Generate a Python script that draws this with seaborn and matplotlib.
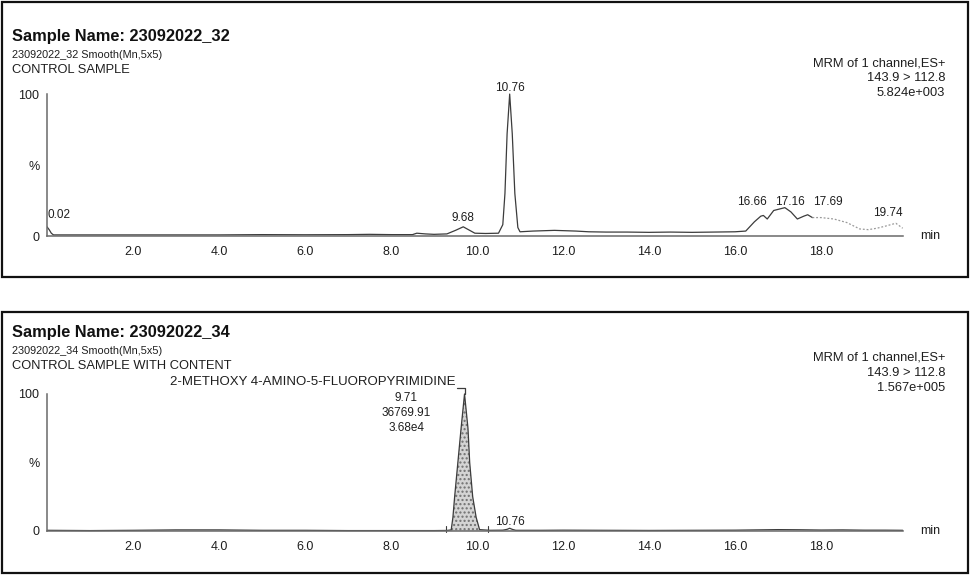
import matplotlib
matplotlib.use("Agg")
import pandas as pd
import matplotlib.pyplot as plt
import seaborn as sns
from matplotlib.patches import Rectangle
from matplotlib.ticker import MultipleLocator, FuncFormatter

# ---- data (time in min, intensity in %) ----
top_time = [0.00, 0.05, 0.10, 0.15, 0.50, 1.0, 2.0, 3.0, 4.0, 5.0, 6.0, 7.0, 7.5,
            8.0, 8.5, 8.6, 8.8, 9.0, 9.3, 9.5, 9.68, 9.8, 9.95, 10.2, 10.5, 10.6,
            10.65, 10.7, 10.76, 10.82, 10.88, 10.95, 11.0, 11.3, 11.8, 12.3, 12.6,
            13.0, 13.5, 14.0, 14.5, 15.0, 15.5, 16.0, 16.25, 16.45, 16.6, 16.66,
            16.75, 16.9, 17.16, 17.3, 17.45, 17.6, 17.69, 17.8, 18.0, 18.3, 18.6,
            18.9, 19.1, 19.3, 19.5, 19.74, 19.9]
top_level = [6.5, 4.5, 2.0, 0.8, 0.8, 0.8, 0.8, 0.8, 0.8, 1.0, 0.9, 1.0, 1.2,
             1.0, 1.0, 2.0, 1.5, 1.2, 1.5, 4.0, 6.5, 4.5, 2.0, 1.8, 2.0, 8.0,
             30.0, 72.0, 100.0, 72.0, 30.0, 6.0, 3.0, 3.5, 4.0, 3.5, 3.0,
             2.8, 2.8, 2.6, 2.8, 2.6, 2.8, 3.0, 3.5, 10.0, 14.0, 14.5,
             12.0, 18.0, 20.0, 17.0, 12.0, 14.0, 15.0, 13.0, 13.0, 12.0, 9.5,
             5.0, 4.5, 5.5, 7.0, 9.0, 5.5]
top_peaks = ["0.02", "9.68", "10.76", "16.66", "17.16", "17.69", "19.74"]

bottom_time = [0.0, 1.0, 2.0, 3.0, 4.0, 5.0, 6.0, 7.0, 8.0, 9.0, 9.3, 9.40, 9.44,
               9.48, 9.555, 9.63, 9.71, 9.79, 9.83, 9.90, 9.98, 10.06, 10.3,
               10.6, 10.7, 10.76, 10.82, 10.9, 11.5, 12.0, 13.0, 14.0,
               15.0, 16.0, 16.5, 17.0, 17.5, 18.0, 18.5, 19.0, 19.5, 19.9]
bottom_level = [0.5, 0.3, 0.5, 0.8, 0.8, 0.5, 0.5, 0.3, 0.3, 0.3, 0.4, 0.8, 10.0,
                25.0, 50.0, 75.0, 100.0, 75.0, 50.0, 25.0, 10.0, 1.0, 0.5,
                0.6, 1.2, 2.0, 1.2, 0.5, 0.5, 0.6, 0.5, 0.4,
                0.5, 0.6, 0.8, 1.0, 0.9, 0.7, 0.8, 0.6, 0.6, 0.5]
bottom_peaks = ["10.76"]
compound_lines = ["9.71", "36769.91", "3.68e4"]
compound_name = "2-METHOXY 4-AMINO-5-FLUOROPYRIMIDINE"
integration_window = [9.28, 10.25]

top_header = ["Sample Name: 23092022_32", "23092022_32 Smooth(Mn,5x5)", "CONTROL SAMPLE"]
bottom_header = ["Sample Name: 23092022_34", "23092022_34 Smooth(Mn,5x5)",
                 "CONTROL SAMPLE WITH CONTENT"]
top_channel = ["MRM of 1 channel,ES+", "143.9 > 112.8", "5.824e+003"]
bottom_channel = ["MRM of 1 channel,ES+", "143.9 > 112.8", "1.567e+005"]

top_df = pd.DataFrame({"time": top_time, "level": top_level})
bottom_df = pd.DataFrame({"time": bottom_time, "level": bottom_level})

# ---- figure ----
sns.set_style("white")
plt.rcParams["font.family"] = ["Liberation Sans", "DejaVu Sans"]

W, H = 971, 578
fig = plt.figure(figsize=(W / 100, H / 100), dpi=100)


def fx(x):
    return x / W


def fy(y):
    return 1 - y / H


INK = "#1e1e1e"
TRACE = "#3c3c3c"
AXC = "#6a6a6a"

ax_top = fig.add_axes([fx(47), fy(240.3), 860 / W, 157.6 / H])
ax_bot = fig.add_axes([fx(47), fy(535.1), 860 / W, 152.1 / H])


def style_axes(ax):
    sns.despine(ax=ax)
    ax.set_xlim(0, 20)
    ax.set_ylim(-3, 108)
    ax.spines["bottom"].set_position(("data", 0))
    ax.spines["left"].set_bounds(0, 100)
    ax.spines["bottom"].set_bounds(0, 19.9)
    for s in ("left", "bottom"):
        ax.spines[s].set_color(AXC)
        ax.spines[s].set_linewidth(1.1)
    ax.xaxis.set_major_locator(MultipleLocator(1))
    ax.xaxis.set_minor_locator(MultipleLocator(0.2))
    ax.xaxis.set_major_formatter(FuncFormatter(
        lambda v, p: f"{v:.1f}" if 1 < v < 19 and round(v) % 2 == 0 else ""))
    ax.set_yticks([0, 50, 100])
    ax.set_yticklabels(["0", "%", "100"])
    ax.yaxis.set_minor_locator(MultipleLocator(10))
    ax.tick_params(axis="x", which="major", length=4, width=0.9, color=AXC,
                   direction="out", pad=3, labelsize=9, labelcolor=INK)
    ax.tick_params(axis="x", which="minor", length=2.5, width=0.8, color=AXC,
                   direction="out")
    ax.tick_params(axis="y", which="major", length=4, width=0.9, color=AXC,
                   direction="out", pad=1.5, labelsize=9, labelcolor=INK)
    ax.tick_params(axis="y", which="minor", length=2.5, width=0.8, color=AXC,
                   direction="out")
    ax.set_xlabel("")
    ax.set_ylabel("")
    ax.text(20.3, 0, "min", fontsize=9, color=INK, va="center", ha="left",
            clip_on=False)


# top chromatogram: solid part, then the faint dotted tail of the scan
solid = top_df[top_df["time"] <= 17.8]
faint = top_df[top_df["time"] >= 17.8]
sns.lineplot(data=solid, x="time", y="level", ax=ax_top, color=TRACE,
             linewidth=0.9, sort=False)
sns.lineplot(data=faint, x="time", y="level", ax=ax_top, color="#9a9a9a",
             linewidth=0.9, linestyle=(0, (1.5, 1.5)), sort=False)
style_axes(ax_top)

top_label_pos = {"0.02": (0.0, 15, "left"), "9.68": (9.68, 13, "center"),
                 "10.76": (10.76, 104.5, "center"), "16.66": (16.40, 24, "center"),
                 "17.16": (17.28, 24, "center"), "17.69": (18.16, 24, "center"),
                 "19.74": (19.55, 16, "center")}
for lab in top_peaks:
    x, y, ha = top_label_pos[lab]
    ax_top.text(x, y, lab, fontsize=8.5, color=INK, ha=ha, va="center",
                clip_on=False)

# bottom chromatogram with shaded integrated peak
sns.lineplot(data=bottom_df, x="time", y="level", ax=ax_bot, color=TRACE,
             linewidth=0.9, sort=False)
peak = bottom_df[(bottom_df["time"] >= integration_window[0]) &
                 (bottom_df["time"] <= integration_window[1])]
ax_bot.fill_between(peak["time"], 0, peak["level"], facecolor="#d4d4d4",
                    edgecolor="#707070", hatch="....", linewidth=0)
for t in integration_window:
    ax_bot.plot([t, t], [-1, 4], color=TRACE, linewidth=0.8)
style_axes(ax_bot)

apex = bottom_df.loc[bottom_df["level"].idxmax()]
ax_bot.plot([apex["time"] - 0.18, apex["time"], apex["time"]], [104, 104, 100],
            color=TRACE, linewidth=0.9, clip_on=False)
ax_bot.text(apex["time"] - 0.2, 108.5, compound_name, fontsize=9.5, color=INK,
            ha="right", va="center", clip_on=False)
for i, line in enumerate(compound_lines):
    ax_bot.text(8.35, 97 - 11 * i, line, fontsize=8.5, color=INK, ha="center",
                va="center")
for lab in bottom_peaks:
    ax_bot.text(float(lab), 6.5, lab, fontsize=8.5, color=INK, ha="center",
                va="center")

# headers and channel info
for header, channel, y0, yc in ((top_header, top_channel, 37, 63),
                                (bottom_header, bottom_channel, 333, 358)):
    fig.text(fx(12), fy(y0), header[0], fontsize=11.8, fontweight="bold",
             color="#111111", va="center")
    fig.text(fx(12), fy(y0 + 18), header[1], fontsize=7.8, color=INK, va="center")
    fig.text(fx(12), fy(y0 + 33), header[2], fontsize=9.3, color=INK, va="center")
    for i, line in enumerate(channel):
        fig.text(fx(945), fy(yc + 15 * i), line, fontsize=9.3, color=INK,
                 ha="right", va="center")

# panel frames
for y_top, y_bot in ((2, 277), (312, 573)):
    fig.add_artist(Rectangle((fx(2), fy(y_bot)), fx(966), (y_bot - y_top) / H,
                             transform=fig.transFigure, fill=False,
                             edgecolor="#111111", linewidth=1.6))

fig.savefig("out.png", dpi=100)
